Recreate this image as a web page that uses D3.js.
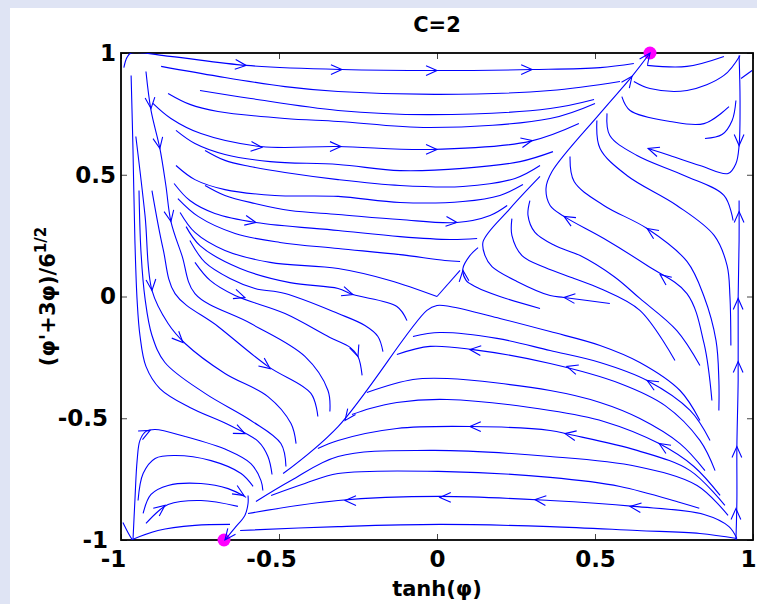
<!DOCTYPE html>
<html>
<head>
<meta charset="utf-8">
<script src="https://cdn.jsdelivr.net/npm/d3@7"></script>
<style>
  html, body { margin: 0; padding: 0; background: #dfe4f4; }
  svg { display: block; }
</style>
</head>
<body>
<svg id="chart" width="757" height="604"></svg>
<script>
var title = 'C=2';
var xTicks = [-1, -0.5, 0, 0.5, 1];
var yTicks = [-1, -0.5, 0, 0.5, 1];

// the two end points of the separatrix
var fixedPoints = [[0.674, 1], [-0.674, -1]];

// streamlines, [tanh(phi), (phi'+3phi)/sqrt6]
var topStreams = [
  [[-0.991,0.940],[-0.981,0.982],[-0.968,1.0],[-0.845,0.986],[-0.604,0.949],[-0.301,0.932],[0,0.928],[0.301,0.932],[0.516,0.940],[0.623,0.957]],
  [[-0.873,0.945],[-0.693,0.904],[-0.481,0.862],[-0.313,0.842],[0.009,0.830],[0.358,0.846],[0.579,0.883]],
  [[-0.75,0.846],[-0.589,0.813],[-0.313,0.764],[-0.022,0.747],[0.358,0.772],[0.497,0.809]],
  [[-0.851,0.834],[-0.782,0.789],[-0.693,0.760],[-0.481,0.731],[-0.313,0.719],[-0.022,0.694],[0.358,0.731],[0.5,0.793]],
  [[-0.899,0.793],[-0.842,0.731],[-0.747,0.669],[-0.557,0.616],[-0.313,0.616],[-0.022,0.604],[0.294,0.637],[0.449,0.710]],
  [[-0.826,0.682],[-0.766,0.628],[-0.671,0.583],[-0.528,0.554],[-0.313,0.542],[-0.117,0.517],[0.082,0.526],[0.263,0.554],[0.367,0.595]],
  [[-0.734,0.600],[-0.671,0.559],[-0.592,0.534],[-0.481,0.509],[-0.313,0.480],[-0.117,0.456],[0.082,0.452],[0.247,0.485],[0.326,0.538]],
  [[-0.826,0.538],[-0.766,0.480],[-0.671,0.439],[-0.513,0.415],[-0.313,0.411],[-0.117,0.386],[0.082,0.390],[0.199,0.415],[0.272,0.460]],
  [[-0.734,0.456],[-0.671,0.415],[-0.576,0.382],[-0.465,0.353],[-0.313,0.337],[-0.117,0.316],[0.063,0.304],[0.168,0.333],[0.222,0.374]],
  [[-0.832,0.464],[-0.782,0.394],[-0.703,0.341],[-0.573,0.304],[-0.313,0.271],[-0.117,0.246],[0.041,0.234],[0.127,0.238]],
  [[-0.820,0.402],[-0.756,0.329],[-0.639,0.259],[-0.497,0.222],[-0.313,0.197],[-0.117,0.172],[0.025,0.148],[0.073,0.144]],
  [[-0.813,0.345],[-0.766,0.263],[-0.671,0.189],[-0.528,0.140],[-0.313,0.115],[-0.149,0.066],[0,0]],
  [[0,0],[0.073,0.107]],
  [[-0.794,0.287],[-0.75,0.209],[-0.623,0.115],[-0.465,0.057],[-0.313,0.033],[-0.266,0.008],[-0.127,-0.041],[-0.095,-0.099]],
  [[-0.782,0.230],[-0.734,0.140],[-0.655,0.074],[-0.576,0.033],[-0.481,0.012],[-0.313,-0.070],[-0.228,-0.119],[-0.187,-0.164],[-0.171,-0.226]],
  [[-0.766,0.140],[-0.718,0.066],[-0.639,0.004],[-0.481,-0.070],[-0.339,-0.168],[-0.275,-0.209],[-0.25,-0.246],[-0.237,-0.324]]
];

var leftStreams = [
  [[-0.921,0.924],[-0.905,0.764],[-0.877,0.608],[-0.858,0.456],[-0.842,0.308],[-0.807,0.168],[-0.766,0.012],[-0.589,-0.111],[-0.418,-0.246],[-0.345,-0.386],[-0.339,-0.472]],
  [[-0.902,0.435],[-0.867,0.197],[-0.829,0.012],[-0.693,-0.123],[-0.535,-0.287],[-0.399,-0.398],[-0.377,-0.493]],
  [[-0.953,0.657],[-0.924,0.333],[-0.902,0.025],[-0.851,-0.111],[-0.797,-0.193],[-0.671,-0.316],[-0.535,-0.411],[-0.462,-0.522],[-0.446,-0.604]],
  [[-0.943,0.435],[-0.937,0.189],[-0.924,-0.008],[-0.902,-0.160],[-0.861,-0.271],[-0.734,-0.398],[-0.589,-0.509],[-0.494,-0.604],[-0.478,-0.698]],
  [[-0.968,0.908],[-0.962,0.600],[-0.956,0.230],[-0.949,-0.016],[-0.940,-0.160],[-0.921,-0.287],[-0.877,-0.378],[-0.782,-0.456],[-0.661,-0.526],[-0.566,-0.595],[-0.535,-0.657],[-0.522,-0.731]]
];

var cornerStreams = [
  [[-0.994,-0.928],[-0.978,-0.969],[-0.965,-0.998]],
  [[-0.962,-0.998],[-0.956,-0.838],[-0.949,-0.674],[-0.940,-0.591],[-0.921,-0.554],[-0.892,-0.546],[-0.797,-0.575],[-0.661,-0.632],[-0.589,-0.686],[-0.557,-0.756],[-0.551,-0.797]],
  [[-0.946,-0.838],[-0.930,-0.727],[-0.892,-0.665],[-0.829,-0.653],[-0.715,-0.674],[-0.620,-0.727],[-0.582,-0.780]],
  [[-0.930,-0.891],[-0.905,-0.813],[-0.851,-0.776],[-0.747,-0.768],[-0.661,-0.789],[-0.604,-0.825]],
  [[-0.921,-0.932],[-0.883,-0.883],[-0.851,-0.854],[-0.747,-0.838],[-0.630,-0.862]],
  [[-0.968,-1.0],[-0.883,-0.961],[-0.766,-0.940],[-0.655,-0.936]],
  [[-0.598,-0.817],[-0.598,-0.850],[-0.608,-0.899],[-0.639,-0.949],[-0.671,-1.0]]
];

var bottomStreams = [
  [[-0.487,-0.727],[-0.313,-0.534],[-0.032,-0.057],[0,-0.037],[0.041,-0.041],[0.199,-0.090],[0.358,-0.144],[0.516,-0.201],[0.642,-0.271],[0.769,-0.386],[0.832,-0.509]],
  [[-0.076,-0.164],[0.009,-0.148],[0.190,-0.172],[0.358,-0.222],[0.516,-0.271],[0.665,-0.345],[0.801,-0.468],[0.864,-0.591]],
  [[-0.127,-0.238],[-0.022,-0.205],[0.114,-0.218],[0.358,-0.275],[0.579,-0.357],[0.722,-0.448],[0.832,-0.591],[0.880,-0.715]],
  [[-0.222,-0.394],[-0.076,-0.341],[0.032,-0.337],[0.358,-0.386],[0.516,-0.435],[0.642,-0.501],[0.769,-0.604],[0.848,-0.715]],
  [[-0.269,-0.485],[-0.212,-0.460],[-0.127,-0.435],[0.032,-0.423],[0.358,-0.468],[0.528,-0.513],[0.703,-0.604],[0.813,-0.698],[0.896,-0.817]],
  [[-0.377,-0.624],[-0.313,-0.591],[-0.127,-0.542],[0.114,-0.534],[0.358,-0.550],[0.421,-0.567],[0.633,-0.632],[0.801,-0.715],[0.911,-0.858]],
  [[-0.573,-0.842],[-0.462,-0.756],[-0.313,-0.657],[-0.022,-0.632],[0.358,-0.657],[0.633,-0.698],[0.823,-0.776],[0.921,-0.899]],
  [[-0.525,-0.817],[-0.418,-0.768],[-0.313,-0.727],[0.032,-0.719],[0.358,-0.743],[0.579,-0.780],[0.769,-0.846],[0.83,-0.87]],
  [[-0.598,-0.891],[-0.313,-0.838],[0.009,-0.821],[0.358,-0.838],[0.623,-0.862],[0.845,-0.895],[0.924,-0.945],[0.949,-0.994]],
  [[-0.623,-0.961],[-0.313,-0.945],[0.009,-0.936],[0.358,-0.945],[0.633,-0.961],[0.832,-0.973],[0.949,-0.994]],
  [[0.326,-0.049],[0.199,0],[0.127,0.037],[0.092,0.066],[0.082,0.115],[0.104,0.168],[0.130,0.201]],
  [[0.547,-0.029],[0.402,-0.004],[0.358,0.004],[0.253,0.062],[0.174,0.123],[0.152,0.168],[0.146,0.226],[0.231,0.361],[0.326,0.493]],
  [[0.237,0.320],[0.237,0.251],[0.269,0.168],[0.342,0.119],[0.434,0.074],[0.516,0.033],[0.642,-0.057],[0.753,-0.263]],
  [[0.294,0.394],[0.288,0.333],[0.310,0.263],[0.373,0.209],[0.453,0.168],[0.560,0.082],[0.642,-0.008],[0.759,-0.140],[0.832,-0.283]]
];

var rightStreams = [
  [[0.870,-0.427],[0.845,-0.193],[0.791,0.012],[0.665,0.127],[0.528,0.238],[0.402,0.329],[0.358,0.374],[0.345,0.444],[0.364,0.513],[0.516,0.752],[0.617,0.904],[0.674,1.0]],
  [[0.421,0.575],[0.434,0.472],[0.528,0.374],[0.665,0.279],[0.791,0.144],[0.845,0],[0.883,-0.181],[0.892,-0.345],[0.892,-0.468]],
  [[0.506,0.723],[0.516,0.608],[0.601,0.497],[0.759,0.374],[0.877,0.251],[0.918,0.127],[0.927,0],[0.930,-0.201]],
  [[0.538,0.752],[0.547,0.661],[0.633,0.579],[0.782,0.497],[0.908,0.415],[0.937,0.312]],
  [[0.956,0.990],[0.959,0.805],[0.956,0.620],[0.946,0.546],[0.921,0.505],[0.832,0.538],[0.737,0.579],[0.668,0.608]],
  [[0.946,-1.0],[0.949,-0.838],[0.949,-0.616],[0.953,-0.345],[0.953,-0.008],[0.956,0.230],[0.956,0.394]],
  [[0.665,0.949],[0.791,0.945],[0.908,0.986]],
  [[0.623,0.883],[0.674,0.854],[0.791,0.846],[0.908,0.908],[0.959,0.990]],
  [[0.585,0.821],[0.611,0.764],[0.737,0.719],[0.845,0.710],[0.924,0.780]],
  [[0.848,0.649],[0.902,0.665],[0.934,0.723],[0.946,0.805]],
  [[0.962,0.895],[0.997,0.928]]
];

// arrow heads: [tipX, tipY, tailX, tailY]
var arrowHeads = [
  [-0.604,0.949,-0.636,0.953],[-0.301,0.932,-0.332,0.932],[0,0.928,-0.032,0.928],[0.301,0.932,0.269,0.932],
  [-0.554,0.612,-0.585,0.616],[-0.304,0.616,-0.335,0.616],[0,0.604,-0.032,0.604],[0.301,0.641,0.269,0.632],
  [-0.573,0.304,-0.604,0.312],[0.063,0.304,0.032,0.308],[-0.266,0.008,-0.297,0.021],
  [-0.608,-0.004,-0.636,0.008],[-0.25,-0.246,-0.259,-0.214],
  [-0.905,0.772,-0.908,0.813],[-0.877,0.608,-0.883,0.649],[-0.842,0.308,-0.848,0.349],
  [-0.902,0.025,-0.905,0.066],[-0.804,-0.189,-0.826,-0.160],[-0.528,-0.296,-0.554,-0.271],
  [-0.608,-0.563,-0.636,-0.546],[-0.908,-0.550,-0.934,-0.567],[-0.611,-0.817,-0.636,-0.797],
  [-0.861,-0.858,-0.886,-0.883],[-0.291,-0.509,-0.272,-0.476],
  [-0.291,-0.838,-0.259,-0.838],[0.009,-0.825,0.041,-0.825],[0.310,-0.834,0.342,-0.838],[0.611,-0.862,0.642,-0.867],
  [0.104,-0.534,0.136,-0.534],[0.405,-0.563,0.437,-0.571],[0.104,-0.218,0.136,-0.222],[0.411,-0.287,0.443,-0.300],
  [0.665,-0.345,0.693,-0.366],[0.703,-0.604,0.728,-0.624],[0.402,-0.004,0.434,-0.008],
  [0.402,0.329,0.430,0.308],[0.706,0.090,0.731,0.066],[0.617,0.904,0.598,0.871],[0.665,0.279,0.693,0.255],
  [0.956,0.620,0.956,0.661],[0.668,0.608,0.699,0.595],
  [0.946,-0.871,0.946,-0.912],[0.949,-0.616,0.949,-0.657],[0.953,-0.267,0.953,-0.308],
  [0.953,-0.008,0.953,-0.049],[0.956,0.349,0.956,0.308],[0.082,0.107,0.085,0.070],
  [0.674,1.0,0.655,0.966],[-0.671,-1.0,-0.655,-0.973]
];

function phasePortrait(id) {

  var svg = d3.select('#' + id),
      margin = { top: 53, right: 4, bottom: 64, left: 121 },
      width = +svg.attr('width') - margin.left - margin.right,
      height = +svg.attr('height') - margin.top - margin.bottom;

  svg.append('rect')
      .attr('x', 10)
      .attr('y', 8)
      .attr('width', +svg.attr('width') - 10)
      .attr('height', +svg.attr('height') - 8)
      .attr('fill', '#fff');

  var g = svg.append('g').attr('transform', 'translate(' + margin.left + ',' + margin.top + ')');

  var x = d3.scaleLinear().domain([-1, 1]).range([0, width]);
  var y = d3.scaleLinear().domain([-1, 1]).range([height, 0]);

  g.append('clipPath').attr('id', 'plot-clip')
    .append('rect').attr('width', width).attr('height', height);

  // axes, ticks pointing inwards on all four sides
  function styleAxis(sel) {
    sel.select('.domain').remove();
    sel.selectAll('.tick line').attr('stroke', '#444');
    sel.selectAll('text')
        .attr('fill', '#000')
        .attr('font-family', 'DejaVu Sans, sans-serif')
        .attr('font-weight', 'bold')
        .attr('font-size', 23);
  }

  var fmt = function(d) { return d3.format('')(d).replace('\u2212', '-'); };

  g.append('g')
      .attr('transform', 'translate(0,' + height + ')')
      .call(d3.axisBottom(x).tickValues(xTicks).tickSize(-6).tickSizeOuter(0).tickPadding(11).tickFormat(fmt))
      .call(styleAxis)
      .selectAll('text')
        .attr('dx', function(d) { return d < 0 ? -8 : (d === 1 ? -5 : 0); });

  g.append('g')
      .call(d3.axisLeft(y).tickValues(yTicks).tickSize(-6).tickSizeOuter(0).tickPadding(5).tickFormat(fmt))
      .call(styleAxis)
      .selectAll('text')
        .attr('dx', function(d) { return d < 0 ? -8 : 0; });

  g.append('g')
      .call(d3.axisTop(x).tickValues(xTicks).tickSize(-6).tickSizeOuter(0).tickFormat(''))
      .call(styleAxis);

  g.append('g')
      .attr('transform', 'translate(' + width + ',0)')
      .call(d3.axisRight(y).tickValues(yTicks).tickSize(-6).tickSizeOuter(0).tickFormat(''))
      .call(styleAxis);

  g.append('rect')
      .attr('width', width)
      .attr('height', height)
      .attr('fill', 'none')
      .attr('stroke', '#000')
      .attr('stroke-width', 1.8);

  g.append('g')
    .selectAll('circle')
    .data(fixedPoints)
    .enter().append('circle')
      .attr('cx', function(d) { return x(d[0]); })
      .attr('cy', function(d) { return y(d[1]); })
      .attr('r', 6.5)
      .attr('fill', '#ff00ff');

  var line = d3.line()
      .x(function(d) { return x(d[0]); })
      .y(function(d) { return y(d[1]); })
      .curve(d3.curveCatmullRom.alpha(0.5));

  var streams = topStreams.concat(leftStreams, cornerStreams, bottomStreams, rightStreams);

  g.append('g')
      .attr('clip-path', 'url(#plot-clip)')
    .selectAll('path')
    .data(streams)
    .enter().append('path')
      .attr('d', line)
      .attr('fill', 'none')
      .attr('stroke', '#0000ff')
      .attr('stroke-width', 1.1);

  var headLen = 12, headAng = 24 * Math.PI / 180;

  g.append('g')
    .selectAll('path')
    .data(arrowHeads)
    .enter().append('path')
      .attr('d', function(d) {
        var tx = x(d[0]), ty = y(d[1]);
        var a = Math.atan2(ty - y(d[3]), tx - x(d[2]));
        var w1 = [tx - headLen * Math.cos(a - headAng), ty - headLen * Math.sin(a - headAng)];
        var w2 = [tx - headLen * Math.cos(a + headAng), ty - headLen * Math.sin(a + headAng)];
        return 'M' + w1 + 'L' + tx + ',' + ty + 'L' + w2;
      })
      .attr('fill', 'none')
      .attr('stroke', '#0000ff')
      .attr('stroke-width', 1.1);

  svg.append('text')
      .attr('x', margin.left + width / 2)
      .attr('y', 32)
      .attr('text-anchor', 'middle')
      .attr('font-family', 'DejaVu Sans, sans-serif')
      .attr('font-weight', 'bold')
      .attr('font-size', 21)
      .text(title);

  svg.append('text')
      .attr('x', margin.left + width / 2)
      .attr('y', 596)
      .attr('text-anchor', 'middle')
      .attr('font-family', 'DejaVu Sans, sans-serif')
      .attr('font-weight', 'bold')
      .attr('font-size', 21)
      .text('tanh(\u03c6)');

  var yl = svg.append('text')
      .attr('transform', 'translate(55,' + (margin.top + height / 2) + ') rotate(-90)')
      .attr('text-anchor', 'middle')
      .attr('font-family', 'DejaVu Sans, sans-serif')
      .attr('font-weight', 'bold')
      .attr('font-size', 21);

  yl.append('tspan').text('(\u03c6\'+3\u03c6)/6');
  yl.append('tspan').attr('dy', -9).attr('font-size', 15).text('1/2');
}

phasePortrait('chart');
</script>
</body>
</html>
